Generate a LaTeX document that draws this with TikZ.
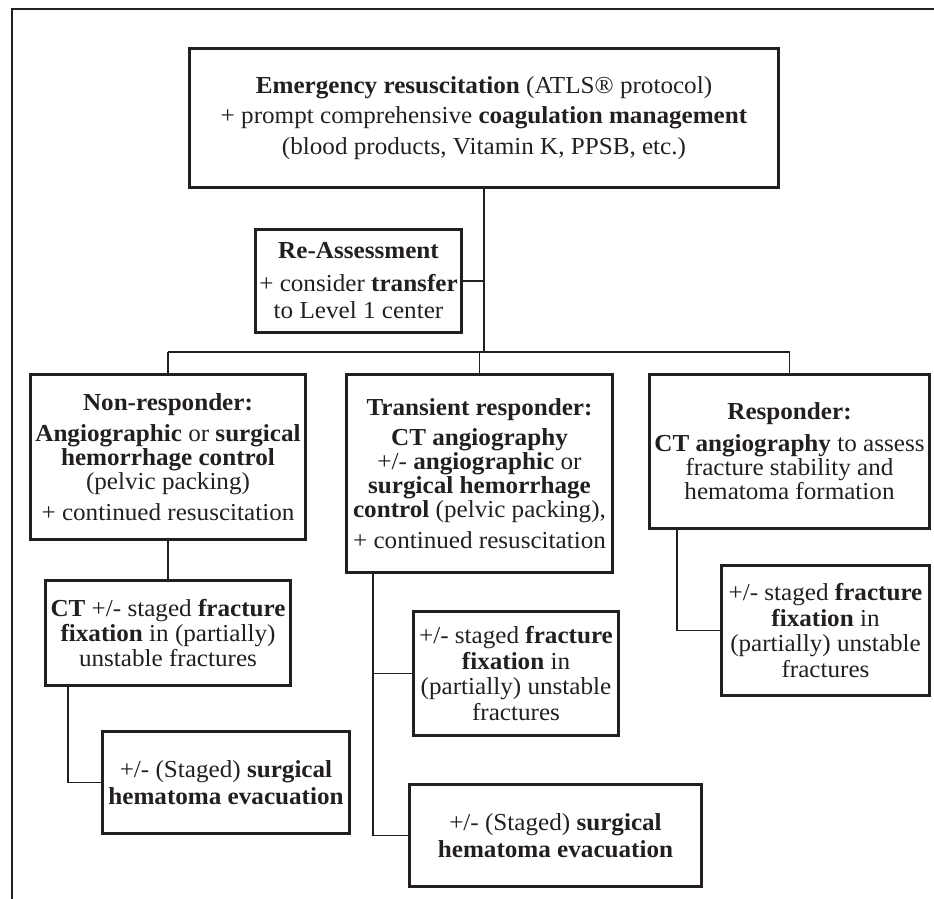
\documentclass[tikz,border=0pt]{standalone}
\usepackage{fontspec}
\setmainfont{Liberation Serif}[FakeStretch=1.03]
\definecolor{ink}{RGB}{35,31,32}
\tikzset{
  box/.style={draw=ink, line width=3pt, text=ink, align=center, inner sep=0pt, anchor=north west,
    font=\fontsize{24.4}{24}\selectfont},
  conn/.style={draw=ink, line width=1.7pt},
  frame/.style={draw=ink, line width=2.7pt}
}
\begin{document}
\begin{tikzpicture}[x=1pt,y=-1pt]
\useasboundingbox (0,0) rectangle (934,899);
\draw[frame] (12,899) -- (12,9) -- (934,9);
% boxes
\node[box, minimum width=589pt, minimum height=139pt, font=\fontsize{24.4}{30.5}\selectfont] (top) at (188,47)
 {\textbf{Emergency resuscitation} (ATLS® protocol)\\ + prompt comprehensive \textbf{coagulation management}\\ (blood products, Vitamin K, PPSB, etc.)};
\node[box, minimum width=206pt, minimum height=103pt, font=\fontsize{24.4}{27}\selectfont] (ra) at (254,228)
 {\textbf{Re-Assessment}\\[6pt] + consider \textbf{transfer}\\ to Level 1 center};
\node[box, minimum width=275pt, minimum height=165pt] (nr) at (29,373)
 {\textbf{Non-responder:}\\[7pt] \textbf{Angiographic} or \textbf{surgical}\\ \textbf{hemorrhage control}\\ (pelvic packing)\\[7pt] + continued resuscitation};
\node[box, minimum width=266pt, minimum height=198pt] (tr) at (345,373)
 {\textbf{Transient responder:}\\[6pt] \textbf{CT angiography}\\ +/- \textbf{angiographic} or\\ \textbf{surgical hemorrhage}\\ \textbf{control} (pelvic packing),\\[7pt] + continued resuscitation};
\node[box, minimum width=280pt, minimum height=154pt] (rs) at (648,373)
 {\textbf{Responder:}\\[8pt] \textbf{CT angiography} to assess\\ fracture stability and\\ hematoma formation};
\node[box, minimum width=245pt, minimum height=105pt, font=\fontsize{24.4}{25}\selectfont] (ct) at (44,579)
 {\textbf{CT} +/- staged \textbf{fracture}\\ \textbf{fixation} in (partially)\\ unstable fractures};
\node[box, minimum width=247pt, minimum height=102pt, font=\fontsize{24.4}{27}\selectfont] (nh) at (101,730)
 {+/- (Staged) \textbf{surgical}\\ \textbf{hematoma evacuation}};
\node[box, minimum width=205pt, minimum height=124pt, font=\fontsize{24.4}{25.5}\selectfont] (tf) at (412,610)
 {+/- staged \textbf{fracture}\\ \textbf{fixation} in\\ (partially) unstable\\ fractures};
\node[box, minimum width=292pt, minimum height=102pt, font=\fontsize{24.4}{27}\selectfont] (th) at (408,783)
 {+/- (Staged) \textbf{surgical}\\ \textbf{hematoma evacuation}};
\node[box, minimum width=208pt, minimum height=130pt, font=\fontsize{24.4}{25.5}\selectfont] (rf) at (720,564)
 {+/- staged \textbf{fracture}\\ \textbf{fixation} in\\ (partially) unstable\\ fractures};
% connectors
\coordinate (bus) at (481,352);
\draw[conn] (top.south) -- (top.south |- bus);
\draw[conn] (ra.east) -- (ra.east -| top.south);
\draw[conn] (nr.north |- bus) -- (rs.north |- bus);
\draw[conn] (nr.north |- bus) -- (nr.north);
\draw[conn] (tr.north |- bus) -- (tr.north);
\draw[conn] (rs.north |- bus) -- (rs.north);
\draw[conn] (nr.south) -- (ct.north);
\draw[conn] ([xshift=24pt]ct.south west) |- (nh.west);
\draw[conn] ([xshift=28pt]tr.south west) |- (tf.west);
\draw[conn] ([xshift=28pt]tr.south west) |- (th.west);
\draw[conn] ([xshift=29pt]rs.south west) |- (rf.west);
\end{tikzpicture}
\end{document}
